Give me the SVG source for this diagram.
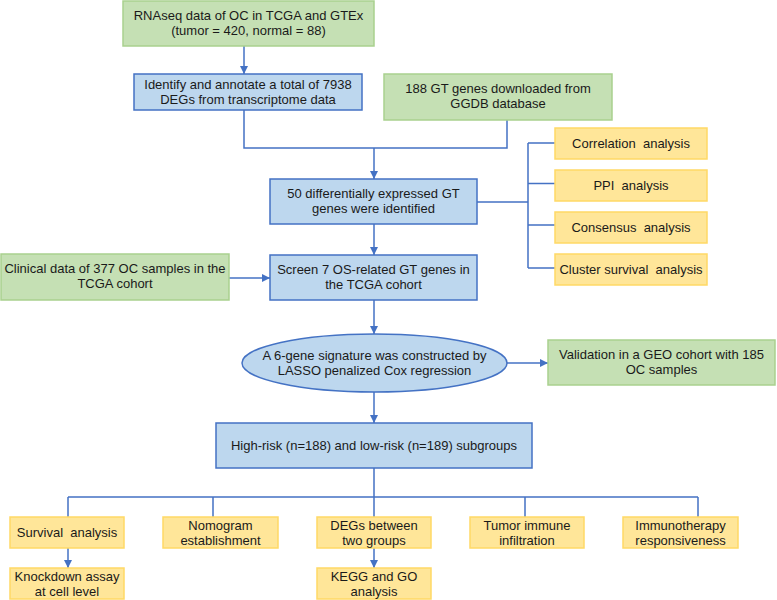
<svg xmlns="http://www.w3.org/2000/svg" width="777" height="600" viewBox="0 0 777 600">
<defs>
<marker id="arr" markerUnits="userSpaceOnUse" markerWidth="9" markerHeight="8" refX="8" refY="4" orient="auto">
<path d="M0,0 L8,4 L0,8 z" fill="#4472c4"/>
</marker>
<style>
.g{fill:#c5e0b4;stroke:#a9d18e;stroke-width:1.5}
.b{fill:#bdd7ee;stroke:#4472c4;stroke-width:1.5}
.y{fill:#ffe699;stroke:#ffd966;stroke-width:1.5}
text{font-family:"Liberation Sans",Arial,sans-serif;font-size:13px;fill:#1a1a1a;text-anchor:middle;white-space:pre}
.c{fill:none;stroke:#4472c4;stroke-width:1.5}
</style>
</defs>
<rect width="777" height="600" fill="#ffffff"/>
<g id="connectors">
<path class="c" d="M244 46 V74" marker-end="url(#arr)"/>
<path class="c" d="M244 110 V148 H507 V120"/>
<path class="c" d="M374 148 V179" marker-end="url(#arr)"/>
<path class="c" d="M374 224 V255" marker-end="url(#arr)"/>
<path class="c" d="M229 278 H270" marker-end="url(#arr)"/>
<path class="c" d="M477 202 H528 M528 143 V268 M528 143 H555 M528 183.5 H555 M528 225 H555 M528 268 H555"/>
<path class="c" d="M374 300 V334" marker-end="url(#arr)"/>
<path class="c" d="M507 363 H548" marker-end="url(#arr)"/>
<path class="c" d="M374 392 V423" marker-end="url(#arr)"/>
<path class="c" d="M374 468 V497 M68 497 H698 M68 497 V517 M213 497 V517 M374 497 V517 M525 497 V517 M698 497 V517"/>
<path class="c" d="M68 548 V568" marker-end="url(#arr)"/>
<path class="c" d="M374 548 V568" marker-end="url(#arr)"/>
</g>
<g id="n1"><rect class="g" x="123" y="1" width="251" height="45"/><text x="248.5" y="20">RNAseq data of OC in TCGA and GTEx</text><text x="248.5" y="35">(tumor = 420, normal = 88)</text></g>
<g id="n2"><rect class="b" x="134" y="74" width="228" height="36"/><text x="248" y="89">Identify and annotate a total of 7938</text><text x="248" y="104">DEGs from transcriptome data</text></g>
<g id="n3"><rect class="g" x="384" y="74" width="228" height="46"/><text x="498" y="93">188 GT genes downloaded from</text><text x="498" y="108">GGDB database</text></g>
<g id="n4"><rect class="b" x="270" y="179" width="207" height="45"/><text x="373.5" y="198">50 differentially expressed GT</text><text x="373.5" y="213">genes were identified</text></g>
<g id="n5"><rect class="b" x="270" y="255" width="207" height="45"/><text x="373.5" y="274">Screen 7 OS-related GT genes in</text><text x="373.5" y="289">the TCGA cohort</text></g>
<g id="n6"><rect class="g" x="1" y="254" width="228" height="46"/><text x="115" y="273">Clinical data of 377 OC samples in the</text><text x="115" y="288">TCGA cohort</text></g>
<g id="r1"><rect class="y" x="555" y="128" width="152" height="31"/><text x="631" y="148">Correlation  analysis</text></g>
<g id="r2"><rect class="y" x="555" y="170" width="152" height="31"/><text x="631" y="190">PPI  analysis</text></g>
<g id="r3"><rect class="y" x="555" y="212" width="152" height="31"/><text x="631" y="232">Consensus  analysis</text></g>
<g id="r4"><rect class="y" x="555" y="254" width="152" height="31"/><text x="631" y="274">Cluster survival  analysis</text></g>
<g id="n7"><ellipse class="b" cx="374.5" cy="363" rx="132.5" ry="29"/><text x="374.5" y="360">A 6-gene signature was constructed by</text><text x="374.5" y="375">LASSO penalized Cox regression</text></g>
<g id="n8"><rect class="g" x="548" y="340" width="227" height="45"/><text x="661.5" y="359">Validation in a GEO cohort with 185</text><text x="661.5" y="374">OC samples</text></g>
<g id="n9"><rect class="b" x="216" y="423" width="316" height="45"/><text x="374" y="450">High-risk (n=188) and low-risk (n=189) subgroups</text></g>
<g id="b1"><rect class="y" x="10" y="517" width="114" height="31"/><text x="67" y="537">Survival  analysis</text></g>
<g id="b2"><rect class="y" x="163" y="517" width="115" height="31"/><text x="220.5" y="530">Nomogram</text><text x="220.5" y="545">establishment</text></g>
<g id="b3"><rect class="y" x="317" y="517" width="114" height="31"/><text x="374" y="530">DEGs between</text><text x="374" y="545">two groups</text></g>
<g id="b4"><rect class="y" x="470" y="517" width="114" height="31"/><text x="527" y="530">Tumor immune</text><text x="527" y="545">infiltration</text></g>
<g id="b5"><rect class="y" x="623" y="517" width="115" height="31"/><text x="680.5" y="530">Immunotherapy</text><text x="680.5" y="545">responsiveness</text></g>
<g id="b6"><rect class="y" x="10" y="568" width="114" height="31"/><text x="67" y="581">Knockdown assay</text><text x="67" y="596">at cell level</text></g>
<g id="b7"><rect class="y" x="317" y="568" width="114" height="31"/><text x="374" y="581">KEGG and GO</text><text x="374" y="596">analysis</text></g>
</svg>
